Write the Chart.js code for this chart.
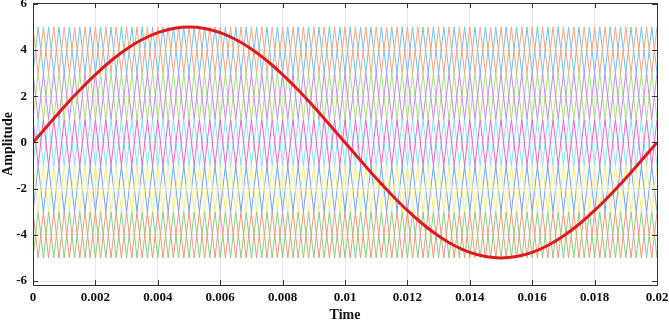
<!DOCTYPE html>
<html>
<head>
<meta charset="utf-8">
<script src="https://cdn.jsdelivr.net/npm/chart.js@4/dist/chart.umd.min.js"></script>
<style>
  html, body { margin: 0; padding: 0; background: #fff; }
  canvas { display: block; }
</style>
</head>
<body>
<canvas id="main-chart" width="669" height="321"></canvas>
<script>
// tick labels
var xTicks = [0, 0.002, 0.004, 0.006, 0.008, 0.01, 0.012, 0.014, 0.016, 0.018, 0.02];
var yTicks = [-6, -4, -2, 0, 2, 4, 6];

// reference sine, every 0.0005 s
var refTime = [0, 0.0005, 0.001, 0.0015, 0.002, 0.0025, 0.003, 0.0035, 0.004, 0.0045,
  0.005, 0.0055, 0.006, 0.0065, 0.007, 0.0075, 0.008, 0.0085, 0.009, 0.0095,
  0.01, 0.0105, 0.011, 0.0115, 0.012, 0.0125, 0.013, 0.0135, 0.014, 0.0145,
  0.015, 0.0155, 0.016, 0.0165, 0.017, 0.0175, 0.018, 0.0185, 0.019, 0.0195, 0.02];
var refValue = [0, 0.78, 1.55, 2.27, 2.94, 3.54, 4.05, 4.46, 4.76, 4.94,
  5.0, 4.94, 4.76, 4.46, 4.05, 3.54, 2.94, 2.27, 1.55, 0.78,
  0, -0.78, -1.55, -2.27, -2.94, -3.54, -4.05, -4.46, -4.76, -4.94,
  -5.0, -4.94, -4.76, -4.46, -4.05, -3.54, -2.94, -2.27, -1.55, -0.78, 0];

// carrier bands (two carriers per band, opposite phase)
var bandLow = [3, 1, -1, -3, -5];
var bandHigh = [5, 3, 1, -1, -3];
var carrierColorA = ['#f4a57c', '#c28ce6', '#e866cc', '#f2ee80', '#f1977a'];
var carrierColorB = ['#72c0ea', '#a6de80', '#82e4f2', '#70a6e8', '#86d07e'];
var carrierCycles = 60;
var endTime = 0.02;

function carrierPoints(low, high, inverted) {
  var pts = [];
  var n = carrierCycles * 2;
  for (var k = 0; k <= n; k++) {
    var top = (k % 2 === 0) !== inverted;
    pts.push({ x: endTime * k / n, y: top ? high : low });
  }
  return pts;
}

var datasets = [];
datasets.push({
  label: 'reference',
  data: refTime.map(function (t, i) { return { x: t, y: refValue[i] }; }),
  borderColor: '#e01a1a',
  borderWidth: 3,
  pointRadius: 0,
  cubicInterpolationMode: 'monotone',
  order: 0
});
for (var b = 0; b < bandLow.length; b++) {
  datasets.push({
    label: 'carrier ' + b + 'a',
    data: carrierPoints(bandLow[b], bandHigh[b], false),
    borderColor: carrierColorA[b],
    borderWidth: 1,
    pointRadius: 0,
    order: 1
  });
  datasets.push({
    label: 'carrier ' + b + 'b',
    data: carrierPoints(bandLow[b], bandHigh[b], true),
    borderColor: carrierColorB[b],
    borderWidth: 1,
    pointRadius: 0,
    order: 1
  });
}

// box + inner tick marks, MATLAB style
var boxPlugin = {
  id: 'box',
  afterDraw: function (chart) {
    var ctx = chart.ctx, a = chart.chartArea;
    var xs = chart.scales.x, ys = chart.scales.y;
    ctx.save();
    ctx.strokeStyle = '#333';
    ctx.lineWidth = 1;
    ctx.beginPath();
    xTicks.forEach(function (v) {
      var px = Math.round(xs.getPixelForValue(v)) + 0.5;
      ctx.moveTo(px, a.bottom); ctx.lineTo(px, a.bottom - 5);
      ctx.moveTo(px, a.top); ctx.lineTo(px, a.top + 5);
    });
    yTicks.forEach(function (v) {
      var py = Math.round(ys.getPixelForValue(v)) + 0.5;
      ctx.moveTo(a.left, py); ctx.lineTo(a.left + 5, py);
      ctx.moveTo(a.right, py); ctx.lineTo(a.right - 5, py);
    });
    ctx.stroke();
    ctx.strokeRect(Math.round(a.left) + 0.5, Math.round(a.top) + 0.5,
      Math.round(a.right - a.left), Math.round(a.bottom - a.top));
    ctx.restore();
  }
};

var font = 'Liberation Serif';
var ctx = document.getElementById('main-chart');
var chart = new Chart(ctx, {
  type: 'line',
  data: { datasets: datasets },
  plugins: [boxPlugin],
  options: {
    responsive: false,
    animation: false,
    events: [],
    layout: { padding: { left: 0, right: 12, top: 3, bottom: 0 } },
    plugins: { legend: { display: false }, tooltip: { enabled: false } },
    scales: {
      x: {
        type: 'linear',
        min: 0,
        max: 0.02,
        afterBuildTicks: function (s) { s.ticks = xTicks.map(function (v) { return { value: v }; }); },
        afterFit: function (s) { s.height = 36; s.paddingLeft = 0; s.paddingRight = 0; },
        grid: { color: '#e6e6e6', drawTicks: false },
        border: { display: false },
        ticks: {
          padding: 5,
          maxRotation: 0,
          autoSkip: false,
          color: '#111',
          font: { family: font, weight: 'bold', size: 13 },
          callback: function (v) { return String(Number(v.toFixed(3))); }
        },
        title: {
          display: true,
          text: 'Time',
          color: '#111',
          padding: { top: 4, bottom: -3 },
          font: { family: font, weight: 'bold', size: 14 }
        }
      },
      y: {
        type: 'linear',
        min: -6.17,
        max: 6.04,
        afterBuildTicks: function (s) { s.ticks = yTicks.map(function (v) { return { value: v }; }); },
        afterFit: function (s) { s.width = 33; s.paddingTop = 0; s.paddingBottom = 0; },
        grid: { color: '#e6e6e6', drawTicks: false },
        border: { display: false },
        ticks: {
          padding: 6,
          color: '#111',
          font: { family: font, weight: 'bold', size: 13 }
        },
        title: {
          display: true,
          text: 'Amplitude',
          color: '#111',
          padding: { top: 0, bottom: 0 },
          font: { family: font, weight: 'bold', size: 14 }
        }
      }
    }
  }
});
</script>
</body>
</html>
